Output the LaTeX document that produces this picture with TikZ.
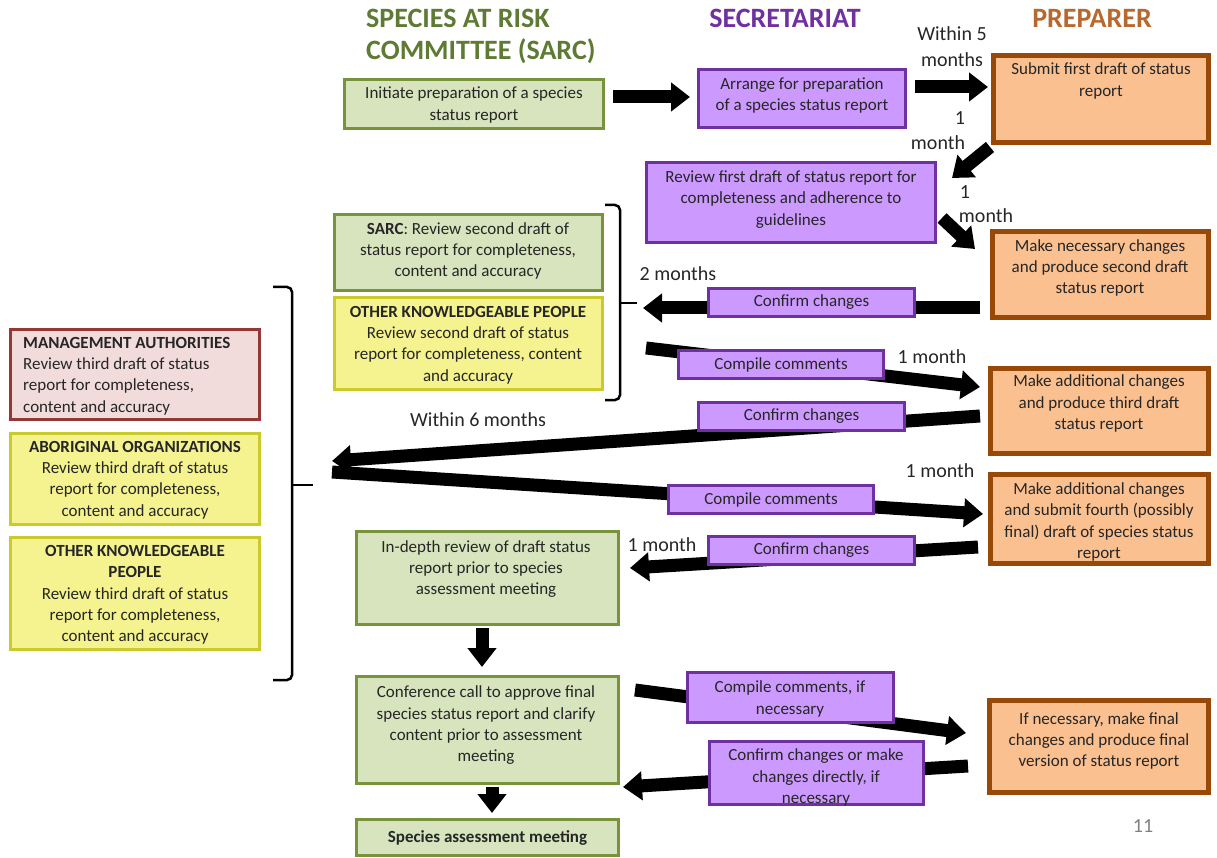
\documentclass[tikz,border=0pt]{standalone}
\usepackage{fontspec}
\setmainfont{Carlito}
\usetikzlibrary{arrows.meta,fit,calc}
\definecolor{gfill}{HTML}{D7E4BD}
\definecolor{gbord}{HTML}{77933C}
\definecolor{pfill}{HTML}{CC99FF}
\definecolor{pbord}{HTML}{7030A0}
\definecolor{ofill}{HTML}{FAC090}
\definecolor{obord}{HTML}{984807}
\definecolor{yfill}{HTML}{F5F38F}
\definecolor{ybord}{HTML}{CACA2C}
\definecolor{rfill}{HTML}{F2DCDB}
\definecolor{rbord}{HTML}{953735}
\definecolor{tcol}{HTML}{262626}
\definecolor{hgreen}{HTML}{5E7A33}
\definecolor{hpurple}{HTML}{7030A0}
\definecolor{horange}{HTML}{B8682E}
\newcommand\bodyfont{\fontsize{17}{21.3}\selectfont}
\newcommand\lblfont{\fontsize{20}{26}\selectfont}
\newcommand\hdrfont{\fontsize{28}{33}\selectfont\bfseries}
\tikzset{
 box/.style={draw, line width=3pt, inner sep=0pt},
 gbox/.style={box, draw=gbord, fill=gfill},
 pbox/.style={box, draw=pbord, fill=pfill},
 obox/.style={box, draw=obord, fill=ofill, line width=5pt},
 ybox/.style={box, draw=ybord, fill=yfill},
 rbox/.style={box, draw=rbord, fill=rfill},
 txt/.style={align=center, font=\bodyfont, text=tcol, inner sep=0pt},
 lbl/.style={font=\lblfont, text=tcol, inner sep=0pt, align=center},
 hdr/.style={font=\hdrfont, inner sep=0pt, align=left},
 bigarr/.style={line width=13pt, -{Triangle[length=19pt,width=28pt]}},
 brk/.style={line width=2.5pt, rounded corners=5pt}
}
\begin{document}
\begin{tikzpicture}[x=1pt,y=-1pt]
\useasboundingbox (0,0) rectangle (1217,858);
% headers
\node[hdr, text=hgreen, anchor=west] (h1a) at (366,18) {SPECIES AT RISK};
\node[hdr, text=hgreen, anchor=west] (h1b) at (366,51) {COMMITTEE (SARC)};
\node[hdr, text=hpurple] (h2) at (785,18) {SECRETARIAT};
\node[hdr, text=horange] (h3) at (1092,18) {PREPARER};
% boxes
\node[gbox, fit={(344.5,79.5) (603.5,128.5)}] (sarc1) {};
\node[pbox, fit={(698.5,69.5) (905.5,127.5)}] (sec1) {};
\node[obox, fit={(993.5,55.5) (1208.5,142.5)}] (prep1) {};
\node[pbox, fit={(646.5,162.5) (935.5,242.5)}] (sec2) {};
\node[obox, fit={(992.5,231.5) (1208.5,317.5)}] (prep2) {};
\node[gbox, fit={(334.5,214.5) (602.5,290.5)}] (sarc2) {};
\node[ybox, fit={(334.5,297.5) (602.5,389.5)}] (okp2) {};
\node[rbox, fit={(10.5,329.5) (259.5,419.5)}] (mgmt) {};
\node[ybox, fit={(10.5,433.5) (259.5,524.5)}] (abor) {};
\node[ybox, fit={(10.5,537.5) (259.5,649.5)}] (okp3) {};
\node[obox, fit={(990.5,368.5) (1208.5,453.5)}] (prep3) {};
\node[obox, fit={(990.5,474.5) (1208.5,563.5)}] (prep4) {};
\node[gbox, fit={(356.5,531.5) (618.5,624.5)}] (sarc3) {};
\node[gbox, fit={(356.5,676.5) (618.5,783.5)}] (sarc4) {};
\node[obox, fit={(989.5,700.5) (1208.5,792.5)}] (prep5) {};
\node[gbox, fit={(356.5,819.5) (618.5,855.5)}] (sarc5) {};
% brackets
\coordinate (b1) at (637,303);
\coordinate (b2) at (313,485);
\draw[brk] (605,205) -- (620,205) -- (620,400) -- (605,400);
\draw[line width=2.5pt] (620,303) -- (b1);
\draw[brk] (273,287) -- (292,287) -- (292,680) -- (273,680);
\draw[line width=2.5pt] (292,485) -- (b2);
% arrows
\draw[bigarr] ($(sarc1.east)+(8,-7)$) -- ($(sec1.west)+(-7,-1.5)$);
\draw[bigarr] ($(sec1.east)+(8,-11.5)$) -- ($(prep1.west)+(-3,-12)$);
\draw[bigarr] ($(prep1.south west)+(-1,2)$) -- ($(sec2.north east)+(15,17)$);
\draw[bigarr] ($(sec2.south east)+(5,-26)$) -- ($(prep2.north west)+(-15,20)$);
\draw[bigarr] ($(prep2.west)+(-10,33.5)$) -- ($(b1)+(6,5)$);
\coordinate (a6s) at (646,348);
\draw[bigarr] (a6s) -- ($(prep3.west)+(-8,-24)$);
\draw[bigarr] ($(prep3.west)+(-8,5)$) -- ($(b2)+(19,-24)$);
\draw[bigarr] ($(b2)+(19,-13)$) -- ($(prep4.west)+(-5,-5)$);
\draw[bigarr] ($(prep4.west)+(-10,28)$) -- ($(sarc3.east)+(10,-10)$);
\draw[bigarr] ($(sarc3.south)+(-5.5,2)$) -- ($(sarc4.north)+(-5.5,-8)$);
\draw[bigarr] ($(sarc4.east)+(15,-40)$) -- ($(prep5.west)+(-21,-13.5)$);
\draw[bigarr] ($(prep5.west)+(-19,19.5)$) -- ($(sarc4.east)+(3,57)$);
\draw[bigarr] ($(sarc4.south)+(4.5,2)$) -- ($(sarc5.north)+(4.5,-5)$);
% small purple boxes on arrows
\node[pbox, fit={(708.5,288.5) (914.5,316.5)}] (conf1) {};
\node[pbox, fit={(678.5,350.5) (883.5,378.5)}] (comp1) {};
\node[pbox, fit={(698.5,402.5) (904.5,430.5)}] (conf2) {};
\node[pbox, fit={(668.5,485.5) (873.5,513.5)}] (comp2) {};
\node[pbox, fit={(708.5,536.5) (914.5,564.5)}] (conf3) {};
\node[pbox, fit={(687.5,672.5) (893.5,722.5)}] (comp3) {};
\node[pbox, fit={(709.5,741.5) (923.5,804.5)}] (conf4) {};
% texts
\node[txt] (sarc1-t) at (474,105) {Initiate preparation of a species\\status report};
\node[txt] (sec1-t) at (802,95.5) {Arrange for preparation\\of a species status report};
\node[txt] (prep1-t) at (1101,81) {Submit first draft of status\\report};
\node[txt] (sec2-t) at (791,199.5) {Review first draft of status report for\\completeness and adherence to\\guidelines};
\node[txt] (prep2-t) at (1100,268) {Make necessary changes\\and produce second draft\\status report};
\node[txt] (sarc2-t) at (468,251) {\textbf{SARC}: Review second draft of\\status report for completeness,\\content and accuracy};
\node[txt] (okp2-t) at (468,345) {\textbf{OTHER KNOWLEDGEABLE PEOPLE}\\Review second draft of status\\report for completeness, content\\and accuracy};
\node[txt] (conf1-t) at (conf1) {Confirm changes};
\node[txt] (comp1-t) at (comp1) {Compile comments};
\node[txt] (prep3-t) at (1099,403.5) {Make additional changes\\and produce third draft\\status report};
\node[txt] (conf2-t) at (conf2) {Confirm changes};
\node[txt, align=left, anchor=west] (mgmt-t) at (23,376) {\textbf{MANAGEMENT AUTHORITIES}\\Review third draft of status\\report for completeness,\\content and accuracy};
\node[txt] (abor-t) at (135,480) {\textbf{ABORIGINAL ORGANIZATIONS}\\Review third draft of status\\report for completeness,\\content and accuracy};
\node[txt] (okp3-t) at (135,595) {\textbf{OTHER KNOWLEDGEABLE}\\\textbf{PEOPLE}\\Review third draft of status\\report for completeness,\\content and accuracy};
\node[txt] (comp2-t) at (comp2) {Compile comments};
\node[txt] (prep4-t) at (1099,522) {Make additional changes\\and submit fourth (possibly\\final) draft of species status\\report};
\node[txt] (sarc3-t) at (486,569) {In-depth review of draft status\\report prior to species\\assessment meeting};
\node[txt] (conf3-t) at (conf3) {Confirm changes};
\node[txt] (sarc4-t) at (486,725.5) {Conference call to approve final\\species status report and clarify\\content prior to assessment\\meeting};
\node[txt] (comp3-t) at (790,699) {Compile comments, if\\necessary};
\node[txt] (prep5-t) at (1099,741) {If necessary, make final\\changes and produce final\\version of status report};
\node[txt] (conf4-t) at (816,777.5) {Confirm changes or make\\changes directly, if\\necessary};
\node[txt, font=\bodyfont\bfseries] (sarc5-t) at (sarc5) {Species assessment meeting};
% labels
\node[lbl] (l1) at (952,47) {Within 5\\months};
\node[lbl] (l2a) at (960,118) {1};
\node[lbl] (l2b) at (938,143) {month};
\node[lbl] (l3a) at (965,192) {1};
\node[lbl] (l3b) at (986,216) {month};
\node[lbl] (l4) at (678,274) {2 months};
\node[lbl] (l5) at (932,357) {1 month};
\node[lbl] (l6) at (478,420) {Within 6 months};
\node[lbl] (l7) at (940,471) {1 month};
\node[lbl] (l8) at (662,545) {1 month};
\node[lbl, text=gray] (pg) at (1143,826) {11};
\end{tikzpicture}
\end{document}
